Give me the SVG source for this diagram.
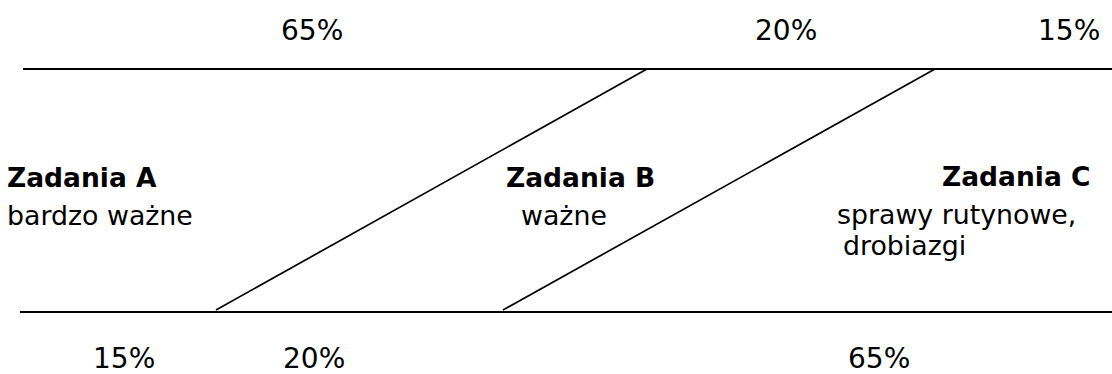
<svg xmlns="http://www.w3.org/2000/svg" width="1112" height="374" viewBox="0 0 1112 374">
  <style>
    .pct { font-family: "DejaVu Sans", Verdana, sans-serif; font-size: 28px; fill: #000; }
    .title { font-family: "DejaVu Sans", Verdana, sans-serif; font-size: 26.5px; font-weight: bold; fill: #000; }
    .desc { font-family: "DejaVu Sans", Verdana, sans-serif; font-size: 26.8px; fill: #000; }
    .rule { stroke: #000; stroke-width: 2.2; fill: none; }
    .split { stroke: #000; stroke-width: 1.7; fill: none; }
  </style>
  <rect width="1112" height="374" fill="#fff"/>

  <!-- horizontal bands and diagonal dividers -->
  <g id="connectors">
    <line class="rule" x1="23" y1="69" x2="1112" y2="69"/>
    <line class="rule" x1="20" y1="312" x2="1112" y2="312"/>
    <line class="split" x1="647" y1="69" x2="216" y2="310"/>
    <line class="split" x1="935" y1="69" x2="503" y2="310"/>
  </g>

  <!-- shares of time (top) -->
  <g id="top-shares">
    <text class="pct" x="281" y="40">65%</text>
    <text class="pct" x="755" y="40">20%</text>
    <text class="pct" x="1038" y="40">15%</text>
  </g>

  <g id="group-a">
    <text class="title" x="7" y="187">Zadania A</text>
    <text class="desc" x="7" y="225">bardzo ważne</text>
  </g>

  <g id="group-b">
    <text class="title" x="506" y="187">Zadania B</text>
    <text class="desc" x="521" y="225">ważne</text>
  </g>

  <g id="group-c">
    <text class="title" x="942" y="186">Zadania C</text>
    <text class="desc" x="837" y="224">sprawy rutynowe,</text>
    <text class="desc" x="843" y="255">drobiazgi</text>
  </g>

  <!-- shares of results (bottom) -->
  <g id="bottom-shares">
    <text class="pct" x="93" y="368">15%</text>
    <text class="pct" x="283" y="368">20%</text>
    <text class="pct" x="848" y="368">65%</text>
  </g>
</svg>
